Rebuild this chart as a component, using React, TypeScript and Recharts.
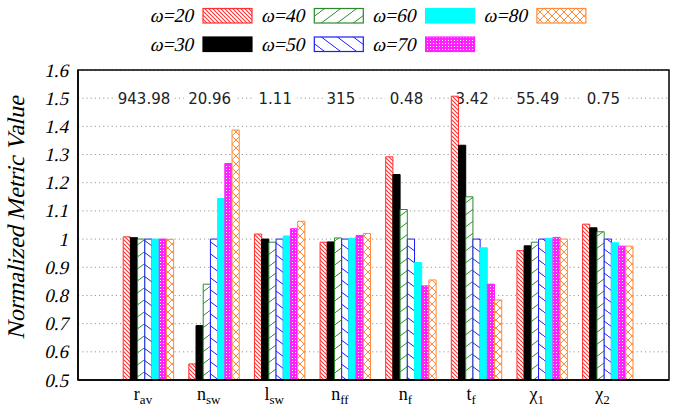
import React from "react";
import { BarChart, Bar, XAxis, YAxis, CartesianGrid, ReferenceDot } from "recharts";

// Metric categories (main symbol + subscript) and the absolute value each metric is normalized by
const categories = ["r_av", "n_sw", "l_sw", "n_ff", "n_f", "t_f", "chi_1", "chi_2"];
const tickMain = ["r", "n", "l", "n", "n", "t", "χ", "χ"];
const tickSub = ["av", "sw", "sw", "ff", "f", "f", "1", "2"];
const baseLabels = ["943.98", "20.96", "1.11", "315", "0.48", "3.42", "55.49", "0.75"];

// Normalized metric values per window size ω
const w20 = [1.008, 0.557, 1.018, 0.989, 1.292, 1.507, 0.959, 1.053];
const w30 = [1.005, 0.693, 1.0, 0.99, 1.229, 1.333, 0.976, 1.04];
const w40 = [1.0, 0.84, 0.989, 1.004, 1.105, 1.15, 0.989, 1.026];
const w50 = [1.0, 1.0, 1.0, 1.0, 1.0, 1.0, 1.0, 1.0];
const w60 = [1.0, 1.144, 1.011, 1.003, 0.917, 0.969, 1.003, 0.987];
const w70 = [1.0, 1.268, 1.037, 1.013, 0.834, 0.84, 1.006, 0.975];
const w80 = [0.999, 1.387, 1.063, 1.02, 0.855, 0.784, 1.0, 0.975];

const seriesNames = ["ω=20", "ω=30", "ω=40", "ω=50", "ω=60", "ω=70", "ω=80"];
const seriesValues = [w20, w30, w40, w50, w60, w70, w80];
const yTicks = [0.5, 0.6, 0.7, 0.8, 0.9, 1.0, 1.1, 1.2, 1.3, 1.4, 1.5, 1.6];
const yDomain = [0.5, 1.6];
const labelLevel = 1.5;
const yTitle = "Normalized Metric Value";

const seriesKeys = ["w20", "w30", "w40", "w50", "w60", "w70", "w80"];
const strokes = ["#ff3030", "#000000", "#2a8a2a", "#1c1cff", "#00ffff", "#ff20ff", "#ff8a3a"];
const fills = ["url(#pRed)", "#000000", "url(#pGreen)", "url(#pBlue)", "#00ffff", "url(#pMag)", "url(#pOrange)"];

const data = categories.map((cat, i) => {
  const row: Record<string, any> = { cat };
  seriesKeys.forEach((k, s) => {
    row[k] = seriesValues[s][i];
  });
  return row;
});

const W = 684;
const H = 417;
const SERIF = "'Liberation Serif', 'Times New Roman', serif";
const SANS = "'DejaVu Sans', sans-serif";
const SLANT = -13;
const MARGIN = { top: 70, right: 15, bottom: 0, left: 0 };
const Y_AXIS_W = 78;
const X_AXIS_H = 37;
const X_PAD = { left: 37.2, right: 28.8 };
const FRAME = { stroke: "#000", strokeWidth: 1.5 };

// Slanted serif text (upright serif face sheared into an italic look)
const Slanted = ({ x, y, size, anchor, rotate, children }: any) => (
  <g transform={`translate(${x},${y})${rotate ? ` rotate(${rotate})` : ""} skewX(${SLANT})`}>
    <text x={0} y={0} textAnchor={anchor} fontFamily={SERIF} fontSize={size} fill="#000">
      {children}
    </text>
  </g>
);

const PatternDefs = () => (
  <defs>
    <pattern id="pRed" patternUnits="userSpaceOnUse" width={4} height={4}>
      <rect width={4} height={4} fill="#fff" />
      <path d="M-1,-1 L5,5 M-1,3 L1,5 M3,-1 L5,1" stroke="#ff3030" strokeWidth={1.1} />
    </pattern>
    <pattern id="pGreen" patternUnits="userSpaceOnUse" width={16} height={12}>
      <rect width={16} height={12} fill="#fff" />
      <path d="M-1.33,13 L17.33,-1" stroke="#2a8a2a" strokeWidth={1} />
    </pattern>
    <pattern id="pBlue" patternUnits="userSpaceOnUse" width={16} height={12}>
      <rect width={16} height={12} fill="#fff" />
      <path d="M-1.33,-1 L17.33,13" stroke="#1c1cff" strokeWidth={1} />
    </pattern>
    <pattern id="pMag" patternUnits="userSpaceOnUse" width={3} height={3}>
      <rect width={3} height={3} fill="#ff20ff" />
      <rect x={1} y={1} width={1} height={1} fill="#fff" />
    </pattern>
    <pattern id="pOrange" patternUnits="userSpaceOnUse" width={8} height={8}>
      <rect width={8} height={8} fill="#fff" />
      <path d="M-1,-1 L9,9 M9,-1 L-1,9" stroke="#ff8a3a" strokeWidth={1} />
    </pattern>
  </defs>
);

const CatTick = (props: any) => {
  const { x, y, payload } = props;
  const i = categories.indexOf(payload.value);
  return (
    <text x={x - 5} y={y + 18} textAnchor="middle" fontFamily={SERIF} fill="#000">
      <tspan fontSize={18}>{tickMain[i]}</tspan>
      <tspan fontSize={13} dy={4}>
        {tickSub[i]}
      </tspan>
    </text>
  );
};

const ValueTick = (props: any) => {
  const { x, y, payload } = props;
  const v: number = payload.value;
  const t = Math.abs(v - 1) < 1e-9 ? "1" : v.toFixed(1);
  return (
    <Slanted x={x} y={y + 6.5} size={19} anchor="end">
      {t}
    </Slanted>
  );
};

// Tick renderer for the back layer, where the axes only provide scales for the grid
const NoTick = () => null;

const AxisTitle = (props: any) => {
  const vb = props.viewBox || { x: 0, y: 70, width: 78, height: 310 };
  const cy = vb.y + vb.height / 2 - 7;
  return (
    <Slanted x={24} y={cy} size={24} anchor="middle" rotate={-90}>
      {yTitle}
    </Slanted>
  );
};

const BaseLabel = (props: any) => {
  const vb = props.viewBox || { x: 0, y: 0, width: 0, height: 0 };
  const cx = vb.x + (vb.width || 0) / 2 - 4;
  const cy = vb.y + (vb.height || 0) / 2;
  const t: string = props.text;
  const w = t.length * 8.8 + 8;
  return (
    <g>
      <rect x={cx - w / 2} y={cy - 9} width={w} height={18} fill="#fff" />
      <text x={cx} y={cy} dy="0.36em" textAnchor="middle" fontFamily={SANS} fontSize={15} fill="#222">
        {t}
      </text>
    </g>
  );
};

const LegendBlock = () => (
  <svg width={W} height={60} style={{ position: "absolute", left: 0, top: 0 }}>
    <PatternDefs />
    {seriesNames.map((name, i) => {
      const col = Math.floor(i / 2);
      const row = i % 2;
      const sx = 203 + col * 111.3;
      const sy = 8.5 + row * 28.5;
      return (
        <g key={name}>
          <Slanted x={sx - 10} y={sy + 13.5} size={19.5} anchor="end">
            {name}
          </Slanted>
          <rect x={sx} y={sy} width={49} height={14.5} fill={fills[i]} stroke={strokes[i]} strokeWidth={1.2} />
        </g>
      );
    })}
  </svg>
);

// Border around the plotting area, derived from the chart margins and axis sizes
const PlotFrame = () => {
  const x = MARGIN.left + Y_AXIS_W;
  const y = MARGIN.top;
  const w = W - x - MARGIN.right;
  const h = H - y - MARGIN.bottom - X_AXIS_H;
  return (
    <svg width={W} height={H} style={{ position: "absolute", left: 0, top: 0, pointerEvents: "none" }}>
      <rect x={x} y={y} width={w} height={h} fill="none" stroke={FRAME.stroke} strokeWidth={FRAME.strokeWidth} />
    </svg>
  );
};

const layer: React.CSSProperties = { position: "absolute", left: 0, top: 0 };

export default function App() {
  return (
    <div style={{ position: "fixed", left: 0, top: 0, width: W, height: H, background: "#fff" }}>
      <LegendBlock />

      {/* Back layer: dotted grid and the normalization values, drawn beneath the bars */}
      <div style={layer}>
        <BarChart width={W} height={H} data={data} margin={MARGIN} barGap={0} barSize={7.2}>
          <CartesianGrid vertical={false} stroke="#9a9a9a" strokeDasharray="1.2 3" />
          <XAxis
            dataKey="cat"
            height={X_AXIS_H}
            padding={X_PAD}
            tick={<NoTick />}
            tickLine={false}
            axisLine={false}
            interval={0}
          />
          <YAxis
            width={Y_AXIS_W}
            domain={yDomain}
            ticks={yTicks}
            interval={0}
            tick={<NoTick />}
            tickLine={false}
            axisLine={false}
          />
          <Bar dataKey="w50" fill="none" stroke="none" isAnimationActive={false} />
          {categories.map((cat, i) => (
            <ReferenceDot
              key={cat}
              x={cat}
              y={labelLevel}
              r={1}
              fill="none"
              stroke="none"
              label={<BaseLabel text={baseLabels[i]} />}
            />
          ))}
        </BarChart>
      </div>

      {/* Front layer: axes and the grouped bars */}
      <div style={layer}>
        <BarChart width={W} height={H} data={data} margin={MARGIN} barGap={0} barSize={7.2}>
          <XAxis
            dataKey="cat"
            height={X_AXIS_H}
            padding={X_PAD}
            tick={<CatTick />}
            tickLine={false}
            tickSize={0}
            axisLine={FRAME}
            interval={0}
          />
          <YAxis
            width={Y_AXIS_W}
            domain={yDomain}
            ticks={yTicks}
            interval={0}
            tickLine={false}
            tickSize={6}
            tickMargin={4}
            tick={<ValueTick />}
            axisLine={FRAME}
            label={<AxisTitle />}
          />
          {seriesKeys.map((k, s) => (
            <Bar
              key={k}
              dataKey={k}
              name={seriesNames[s]}
              fill={fills[s]}
              stroke={strokes[s]}
              strokeWidth={1}
              isAnimationActive={false}
            />
          ))}
        </BarChart>
      </div>

      <PlotFrame />
    </div>
  );
}
